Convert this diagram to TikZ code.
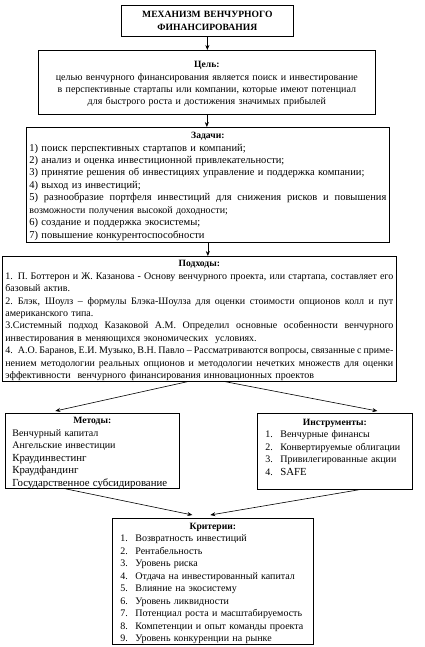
\documentclass[tikz,border=0pt]{standalone}
\usepackage{fontspec}
\setmainfont{Liberation Serif}
\usetikzlibrary{arrows.meta}
\setlength{\parindent}{0pt}
\setlength{\parskip}{0pt}
\newcommand{\fs}{\fontsize{10pt}{12.45pt}\selectfont\hyphenpenalty=10000\exhyphenpenalty=10000\parindent=0pt\parskip=0pt}
\newcommand{\bgf}{\fontsize{10.8pt}{12.45pt}\selectfont}
\newcommand{\tkf}{\fontsize{10.5pt}{12.45pt}\selectfont}
\newcommand{\hd}{\fontsize{9.6pt}{12.45pt}\selectfont\bfseries}
\newcommand{\hdl}[2][10.5pt]{\makebox[\hsize]{\rule{0pt}{#1}\hd #2}}
\newcommand{\jl}[1]{{\spaceskip=.25em plus .6em minus .12em\makebox[\hsize][s]{#1}}}
\newcommand{\pl}[1]{\mbox{#1}}
\newcommand{\itm}[2]{\mbox{\hspace*{5pt}\makebox[15pt][l]{#1}#2}}
\tikzset{
  box/.style={draw, line width=0.7pt, anchor=north west, inner xsep=3pt, inner ysep=0pt, font=\fs},
  arr/.style={-{Stealth[length=5pt,width=4pt]}, line width=0.6pt},
}
\begin{document}
\begin{tikzpicture}[x=1pt,y=-1pt]
\useasboundingbox[fill=white] (0,0) rectangle (424,647);

\node[box, text width=166pt, minimum height=31pt, align=center] (title) at (121,5)
  {\hd МЕХАНИЗМ ВЕНЧУРНОГО\\ ФИНАНСИРОВАНИЯ};

\node[box, text width=331pt, minimum height=64pt, align=center] (goal) at (38,50)
  {{\rule{0pt}{10pt}\hd Цель:}\\
   целью венчурного финансирования является поиск и инвестирование\\
   в перспективные стартапы или компании, которые имеют потенциал\\
   для быстрого роста и достижения значимых прибылей};

\node[box, text width=357pt, minimum height=115pt, align=left] (tasks) at (26,127)
  {\hdl[9.5pt]{Задачи:}\\[-0.1pt]
   \pl{\tkf 1)\ поиск перспективных стартапов и компаний;}\\
   \pl{\tkf 2)\ анализ и оценка инвестиционной привлекательности;}\\
   \pl{\tkf 3)\ принятие решения об инвестициях управление и поддержка компании;}\\
   \pl{\tkf 4)\ выход из инвестиций;}\\
   \jl{\tkf 5) разнообразие портфеля инвестиций для снижения рисков и повышения}\\
   \pl{возможности получения высокой доходности;}\\
   \pl{\tkf 6)\ создание и поддержка экосистемы;}\\
   \pl{\tkf 7)\ повышение конкурентоспособности}};

\node[box, text width=388pt, minimum height=125pt, align=left] (appr) at (2,256)
  {\hdl[10pt]{Подходы:}\\
   \jl{1. П. Боттерон и Ж. Казанова - Основу венчурного проекта, или стартапа, составляет его}\\
   \pl{базовый актив.}\\
   \jl{2. Блэк, Шоулз – формулы Блэка-Шоулза для оценки стоимости опционов колл и пут}\\
   \pl{американского типа.}\\
   \jl{3.Системный подход Казаковой А.М. Определил основные особенности венчурного}\\
   \pl{инвестирования в меняющихся экономических\ \ условиях.}\\
   \jl{4. А.О. Баранов, Е.И. Музыко, В.Н. Павло – Рассматриваются вопросы, связанные с приме-}\\
   \jl{нением методологии реальных опционов и методологии нечетких множеств для оценки}\\
   \pl{эффективности\ \ венчурного финансирования инновационных проектов}};

\node[box, text width=168pt, minimum height=75pt, align=left] (meth) at (5,413)
  {\hdl{Методы:}\\
   \pl{\hspace*{4pt}Венчурный капитал}\\
   \pl{\hspace*{4pt}Ангельские инвестиции}\\
   \pl{\bgf\hspace*{4pt}Краудинвестинг}\\
   \pl{\bgf\hspace*{4pt}Краудфандинг}\\
   \pl{\bgf\hspace*{4pt}Государственное субсидирование}};

\node[box, text width=149pt, minimum height=76pt, align=left] (instr) at (257,413)
  {\hdl{Инструменты:}\\
   \itm{1.}{Венчурные финансы}\\
   \itm{2.}{Конвертируемые облигации}\\
   \itm{3.}{Привилегированные акции}\\
   \itm{4.}{\bgf SAFE}\\
   \mbox{}};

\node[box, text width=195pt, minimum height=126pt, align=left] (crit) at (112,518)
  {\hdl{Критерии:}\\
   \itm{1.}{Возвратность инвестиций}\\
   \itm{2.}{Рентабельность}\\
   \itm{3.}{Уровень риска}\\
   \itm{4.}{Отдача на инвестированный капитал}\\
   \itm{5.}{Влияние на экосистему}\\
   \itm{6.}{Уровень ликвидности}\\
   \itm{7.}{Потенциал роста и масштабируемость}\\
   \itm{8.}{Компетенции и опыт команды проекта}\\
   \itm{9.}{Уровень конкуренции на рынке}};

\draw[arr] (title.south) -- (title.south |- goal.north);
\draw[arr] (goal.south) -- (goal.south |- tasks.north);
\draw[arr] (tasks.south) -- (tasks.south |- appr.north);
\draw[arr] ([xshift=-12pt]appr.south) -- ([xshift=-37pt,yshift=2pt]meth.north);
\draw[arr] ([xshift=26pt]appr.south) -- ([xshift=42.5pt,yshift=2pt]instr.north);
\draw[arr] ([xshift=-27pt]meth.south) -- ([xshift=-20.5pt,yshift=3pt]crit.north);
\draw[arr] ([xshift=24.5pt]instr.south) -- ([xshift=-2.5pt,yshift=3pt]crit.north);
\end{tikzpicture}
\end{document}
